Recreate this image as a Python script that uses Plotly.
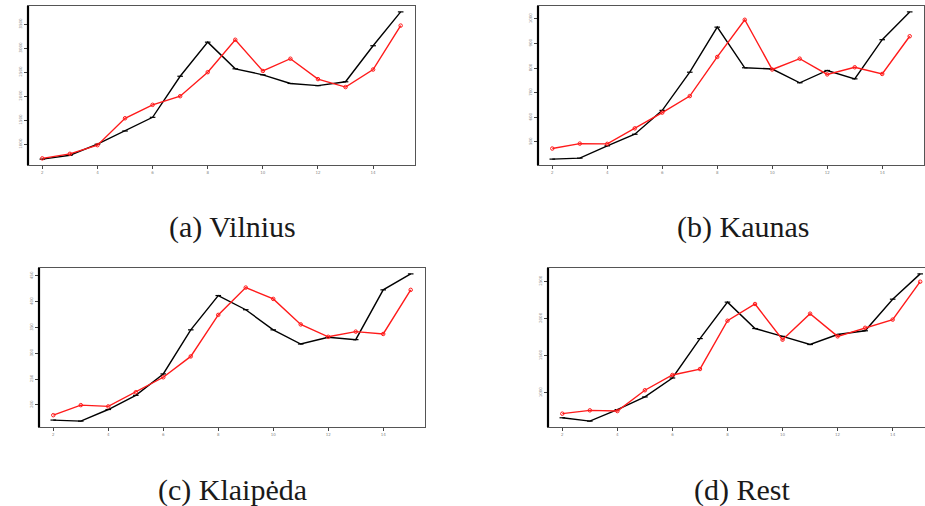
import plotly.graph_objects as go

# Time index shared by all panels
periods = list(range(2, 16))

# Observed (black) and fitted (red) series per region
vilnius_obs = [690, 770, 1000, 1275, 1560, 2415, 3125, 2570, 2445, 2265, 2220, 2300, 3050, 3755]
vilnius_fit = [705, 800, 980, 1540, 1820, 2000, 2500, 3175, 2525, 2780, 2355, 2190, 2555, 3470]

kaunas_obs = [430, 434, 484, 531, 628, 783, 966, 801, 796, 740, 790, 756, 915, 1028]
kaunas_fit = [473, 493, 492, 555, 619, 686, 845, 996, 794, 838, 774, 803, 776, 929]

klaipeda_obs = [170.5, 168.5, 191, 218.5, 260, 345.5, 412, 384.5, 345.5, 318, 331, 326.5, 423, 454]
klaipeda_fit = [180, 199.5, 197, 224.5, 253.5, 294, 374.5, 427.5, 405.5, 356, 332, 342, 337.5, 423]

rest_obs = [665, 620, 775, 945, 1200, 1730, 2220, 1865, 1760, 1650, 1785, 1835, 2260, 2600]
rest_fit = [720, 765, 755, 1035, 1240, 1320, 1970, 2195, 1715, 2065, 1760, 1875, 1985, 2495]

captions = ["(a) Vilnius", "(b) Kaunas", "(c) Klaipėda", "(d) Rest"]
y_steps = [500, 100, 50, 500]

W, H = 925, 506

# Panel boxes in pixels: left, right, top, bottom
boxes = [
    (28, 415, 6, 165),
    (538, 924, 6, 165),
    (39, 425, 268, 427),
    (548, 925, 268, 427),
]
caption_pos = [(233, 227), (743, 227), (233, 490), (742, 490)]

series = [
    (vilnius_obs, vilnius_fit),
    (kaunas_obs, kaunas_fit),
    (klaipeda_obs, klaipeda_fit),
    (rest_obs, rest_fit),
]


def padded(lo, hi, frac=0.04):
    span = hi - lo
    return [lo - frac * span, hi + frac * span]


fig = go.Figure()

for i, ((obs, fit), (l, r, t, b)) in enumerate(zip(series, boxes)):
    n = i + 1
    xa = "x" if n == 1 else f"x{n}"
    ya = "y" if n == 1 else f"y{n}"
    fig.add_trace(go.Scatter(
        x=periods, y=obs, xaxis=xa, yaxis=ya, mode="lines+markers",
        line=dict(color="black", width=1.4),
        marker=dict(symbol="line-ew", size=4, color="black",
                    line=dict(color="black", width=1.2)),
        showlegend=False,
    ))
    fig.add_trace(go.Scatter(
        x=periods, y=fit, xaxis=xa, yaxis=ya, mode="lines+markers",
        line=dict(color="#ff1a1a", width=1.4),
        marker=dict(symbol="circle-open", size=3.5, color="#ff1a1a",
                    line=dict(color="#ff1a1a", width=1)),
        showlegend=False,
    ))

    xr = padded(min(periods), max(periods))
    if n == 4:
        # the right-hand panel runs off the page edge
        px_per_unit = (920.2 - 562.7) / (max(periods) - min(periods))
        xr = [xr[0], min(periods) + (W - 562.7) / px_per_unit]
    lo = min(min(obs), min(fit))
    hi = max(max(obs), max(fit))
    yr = padded(lo, hi)

    axis_common = dict(
        showgrid=False, zeroline=False, showline=True, mirror=True,
        linecolor="#555555", linewidth=1,
        ticks="outside", ticklen=3, tickwidth=1, tickcolor="#444444",
        tickfont=dict(size=4, color="#888888", family="DejaVu Sans"),
    )
    fig.layout[f"xaxis{'' if n == 1 else n}"] = dict(
        axis_common, domain=[l / W, r / W], range=xr,
        anchor=ya, tick0=0, dtick=2,
    )
    fig.layout[f"yaxis{'' if n == 1 else n}"] = dict(
        axis_common, domain=[1 - b / H, 1 - t / H], range=yr,
        anchor=xa, tick0=0, dtick=y_steps[i], tickangle=-90,
    )
    # heavier left axis
    fig.add_shape(type="line", xref=f"{xa} domain", yref=f"{ya} domain",
                  x0=0, x1=0, y0=0, y1=1,
                  line=dict(color="black", width=2.2))

    cx, cy = caption_pos[i]
    fig.add_annotation(
        x=cx / W, y=1 - cy / H, xref="paper", yref="paper",
        text=captions[i], showarrow=False,
        font=dict(family="Liberation Serif", size=30, color="#1a1a1a"),
        xanchor="center", yanchor="middle",
    )

fig.update_layout(
    width=W, height=H,
    margin=dict(l=0, r=0, t=0, b=0),
    paper_bgcolor="white", plot_bgcolor="white",
)

fig.write_html("out.html")
